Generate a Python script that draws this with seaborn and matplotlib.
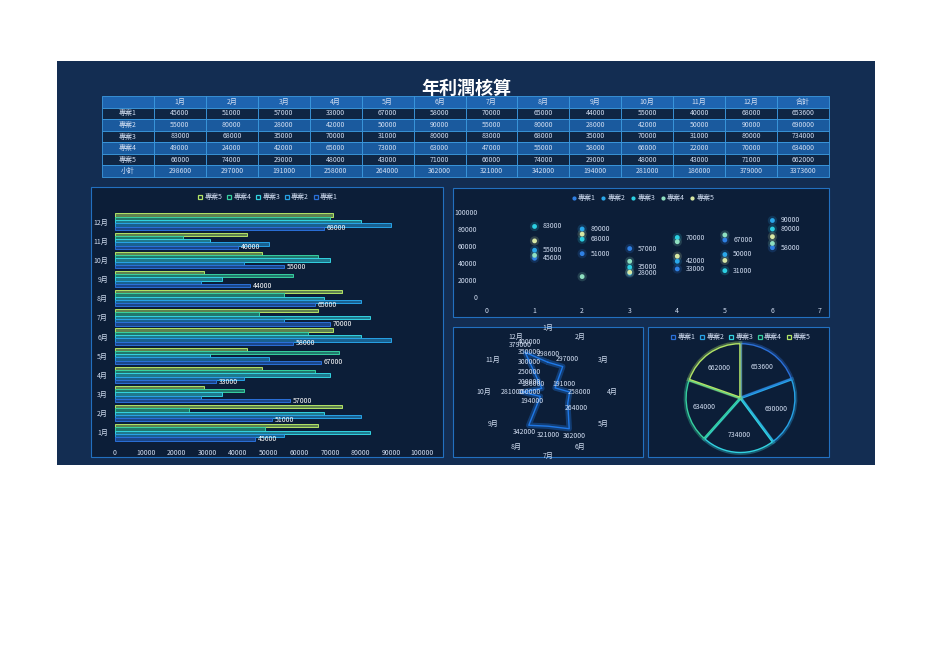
import matplotlib
matplotlib.use("Agg")
import matplotlib.pyplot as plt
import matplotlib.patheffects as pe
from matplotlib.lines import Line2D
from matplotlib.patches import Rectangle
import numpy as np
import pandas as pd
import seaborn as sns

# ---- data ----
months = ["1月", "2月", "3月", "4月", "5月", "6月", "7月", "8月", "9月", "10月", "11月", "12月"]
projects = ["專案1", "專案2", "專案3", "專案4", "專案5"]
p1 = [45600, 51000, 57000, 33000, 67000, 58000, 70000, 65000, 44000, 55000, 40000, 68000]
p2 = [55000, 80000, 28000, 42000, 50000, 90000, 55000, 80000, 28000, 42000, 50000, 90000]
p3 = [83000, 68000, 35000, 70000, 31000, 80000, 83000, 68000, 35000, 70000, 31000, 80000]
p4 = [49000, 24000, 42000, 65000, 73000, 63000, 47000, 55000, 58000, 66000, 22000, 70000]
p5 = [66000, 74000, 29000, 48000, 43000, 71000, 66000, 74000, 29000, 48000, 43000, 71000]
subtotal = [298600, 297000, 191000, 258000, 264000, 362000, 321000, 342000, 194000, 281000, 186000, 379000]
totals = [653600, 690000, 734000, 634000, 662000]
grand_total = 3373600
series = [p1, p2, p3, p4, p5]

# ---- colours ----
NAVY = "#132d52"
PANEL = "#0c1e38"
BORDER = "#2270c0"
TXT = "#d2def2"
bar_colors = ["#2a6fd8", "#27a2e6", "#32d2e0", "#36d0a0", "#b2e466"]
dot_colors = ["#2f80e4", "#2aa8ea", "#2cd0e2", "#8fe0c0", "#d8e8a4"]

sns.set_theme(style="dark")
plt.rcParams["font.family"] = ["Noto Sans CJK TC", "DejaVu Sans"]
plt.rcParams["axes.unicode_minus"] = False

W, H = 936, 662
fig = plt.figure(figsize=(W / 100, H / 100), dpi=100)
fig.patch.set_facecolor("white")


def box(x0, y0, x1, y1):
    return [x0 / W, 1 - y1 / H, (x1 - x0) / W, (y1 - y0) / H]


def panel(x0, y0, x1, y1, fc=PANEL, ec=BORDER, lw=0.8):
    fig.add_artist(Rectangle((x0 / W, 1 - y1 / H), (x1 - x0) / W, (y1 - y0) / H,
                             transform=fig.transFigure, facecolor=fc, edgecolor=ec,
                             linewidth=lw, zorder=0))


def glow(c, w=3.5, a=0.35):
    return [pe.Stroke(linewidth=w, foreground=c, alpha=a), pe.Normal()]


def style_ax(ax):
    ax.set_facecolor("none")
    for s in ax.spines.values():
        s.set_visible(False)
    ax.grid(False)
    ax.tick_params(colors=TXT, labelsize=5, length=0, pad=2)
    ax.set_xlabel("")
    ax.set_ylabel("")


# background panels
panel(57, 61, 875, 465, fc=NAVY, ec="none")
panel(91, 187, 443, 457)
panel(453, 188, 829, 317)
panel(453, 327, 643, 457)
panel(648, 327, 829, 457)

fig.text(466 / W, 1 - 88 / H, "年利潤核算", ha="center", va="center",
         fontsize=13, fontweight="bold", color="white")

# ---- table ----
ax_t = fig.add_axes(box(102, 96, 829, 177))
ax_t.axis("off")
col_labels = [""] + months + ["合計"]
rows = [[projects[i]] + [str(v) for v in series[i]] + [str(totals[i])] for i in range(5)]
rows.append(["小計"] + [str(v) for v in subtotal] + [str(grand_total)])
tbl = ax_t.table(cellText=rows, colLabels=col_labels, cellLoc="center", bbox=[0, 0, 1, 1])
tbl.auto_set_font_size(False)
for (r, c), cell in tbl.get_celld().items():
    cell.set_edgecolor("#3c9ae0")
    cell.set_linewidth(0.6)
    cell.get_text().set_fontsize(5)
    cell.get_text().set_color(TXT)
    if r == 0:
        cell.set_facecolor("#1e64b0")
    elif r % 2 == 0:
        cell.set_facecolor("#1a5a9e")
    else:
        cell.set_facecolor("#0f2644")

# ---- horizontal bars ----
df_bar = pd.DataFrame({
    "month": months * 5,
    "project": [p for p in projects for _ in months],
    "value": p1 + p2 + p3 + p4 + p5,
})
pal = dict(zip(projects, bar_colors))
ax_b = fig.add_axes(box(115, 212, 422, 442))
sns.barplot(data=df_bar, y="month", x="value", hue="project", order=months[::-1],
            hue_order=projects[::-1], palette=pal, orient="h", width=0.86,
            saturation=1, legend=False, ax=ax_b)
for cont, name in zip(ax_b.containers, projects[::-1]):
    c = pal[name]
    for bar in cont:
        bar.set_facecolor(matplotlib.colors.to_rgba(c, 0.5))
        bar.set_edgecolor(c)
        bar.set_linewidth(0.7)
ax_b.bar_label(ax_b.containers[4], fmt="%d", padding=2, fontsize=5, color="white")
ax_b.set_xlim(0, 100000)
ax_b.set_xticks(range(0, 100001, 10000))
style_ax(ax_b)
ax_b.tick_params(axis="x", pad=5)
ax_b.tick_params(axis="y", pad=5)
h_bar = [Line2D([], [], ls="", marker="s", ms=3.5, mfc="none", mec=pal[p], mew=0.9)
         for p in projects[::-1]]
ax_b.legend(h_bar, projects[::-1], loc="center", bbox_to_anchor=(268 / W, 1 - 197 / H),
            bbox_transform=fig.transFigure, ncol=5, frameon=False, fontsize=5,
            labelcolor=TXT, handlelength=0.7, handletextpad=0.2, columnspacing=0.7)

# ---- scatter ----
idx6 = list(range(1, 7))
df_sc = pd.DataFrame({
    "x": idx6 * 5,
    "project": [p for p in projects for _ in idx6],
    "value": p1[:6] + p2[:6] + p3[:6] + p4[:6] + p5[:6],
})
dpal = dict(zip(projects, dot_colors))
ax_s = fig.add_axes(box(487, 212, 820, 297))
sns.scatterplot(data=df_sc, x="x", y="value", hue="project", palette=dpal, s=45,
                alpha=0.18, edgecolor="none", legend=False, ax=ax_s)
sns.scatterplot(data=df_sc, x="x", y="value", hue="project", palette=dpal, s=12,
                edgecolor="none", legend=False, ax=ax_s)
for s_vals in series[:3]:
    for x, v in zip(idx6, s_vals[:6]):
        ax_s.annotate(str(v), (x, v), xytext=(6, 0), textcoords="offset points",
                      va="center", fontsize=5, color=TXT)
ax_s.set_xlim(0, 7)
ax_s.set_ylim(0, 100000)
ax_s.set_xticks(range(0, 8))
ax_s.set_yticks(range(0, 100001, 20000))
style_ax(ax_s)
ax_s.tick_params(axis="x", pad=7)
ax_s.tick_params(axis="y", pad=7)
h_dot = [Line2D([], [], ls="", marker="o", ms=2, mfc=dpal[p], mec=dpal[p]) for p in projects]
ax_s.legend(h_dot, projects, loc="center", bbox_to_anchor=(643 / W, 1 - 198 / H),
            bbox_transform=fig.transFigure, ncol=5, frameon=False, fontsize=5,
            labelcolor=TXT, handlelength=0.6, handletextpad=0.3, columnspacing=0.8)

# ---- radar ----
ax_r = fig.add_axes(box(498, 342, 598, 442), projection="polar")
ax_r.set_theta_zero_location("N")
ax_r.set_theta_direction(-1)
theta = np.linspace(0, 2 * np.pi, len(months), endpoint=False)
tt = np.append(theta, theta[0])
vv = np.append(subtotal, subtotal[0])
ax_r.plot(tt, vv, color="#1f78e6", lw=1.0, path_effects=glow("#1f78e6", 4, 0.35))
ax_r.set_ylim(150000, 400000)
ax_r.set_yticks(range(150000, 400001, 50000))
ax_r.set_yticklabels([])
for v in range(150000, 400001, 50000):
    ax_r.annotate(str(v), (0, v), xytext=(-5, 0), textcoords="offset points",
                  ha="right", va="center", fontsize=5, color=TXT)
for t, v in zip(theta, subtotal):
    ax_r.annotate(str(v), (t, v), xytext=(7 * np.sin(t), 6 * np.cos(t)),
                  textcoords="offset points", ha="center", va="center",
                  fontsize=5, color=TXT)
ax_r.set_xticks(theta)
ax_r.set_xticklabels(months)
ax_r.set_facecolor("none")
ax_r.grid(False)
ax_r.spines["polar"].set_visible(False)
ax_r.tick_params(axis="x", colors=TXT, labelsize=5, pad=-3)

# ---- pie ----
ax_p = fig.add_axes(box(684, 343, 797, 453))
wedges, _, autotexts = ax_p.pie(
    totals, startangle=90, counterclock=False, explode=[0.02] * 5,
    colors=[PANEL] * 5, autopct=lambda p: f"{p * sum(totals) / 100:.0f}",
    pctdistance=0.68, textprops=dict(fontsize=5, color=TXT))
for w, c in zip(wedges, bar_colors):
    w.set_edgecolor(c)
    w.set_linewidth(1.0)
    w.set_path_effects(glow(c, 3.5, 0.35))
ax_p.set_aspect("equal")
ax_p.set_xlim(-1.03, 1.03)
ax_p.set_ylim(-1.03, 1.03)
h_sq = [Line2D([], [], ls="", marker="s", ms=3.5, mfc="none", mec=c, mew=0.9) for c in bar_colors]
ax_p.legend(h_sq, projects, loc="center", bbox_to_anchor=(741 / W, 1 - 337 / H),
            bbox_transform=fig.transFigure, ncol=5, frameon=False, fontsize=5,
            labelcolor=TXT, handlelength=0.7, handletextpad=0.2, columnspacing=0.7)

fig.savefig("out.png", dpi=100, facecolor=fig.get_facecolor())
